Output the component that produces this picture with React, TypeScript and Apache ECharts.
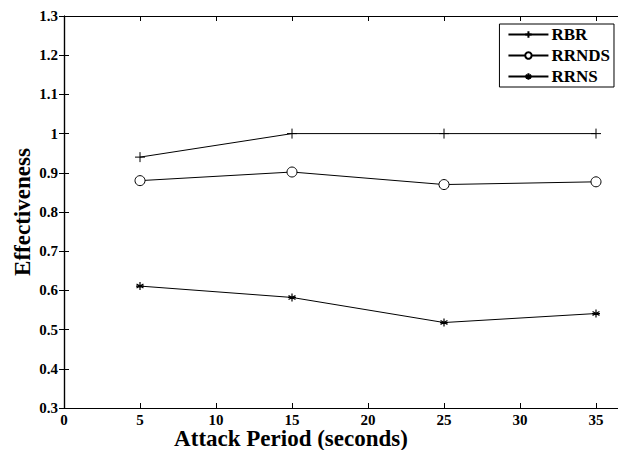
import React, { useEffect, useRef } from "react";
import * as echarts from "echarts";

const periods = [5, 15, 25, 35];
const rbr = [0.94, 1.0, 1.0, 1.0];
const rrnds = [0.88, 0.902, 0.87, 0.877];
const rrns = [0.611, 0.582, 0.518, 0.541];
const seriesNames = ["RBR", "RRNDS", "RRNS"];

const FONT = "'Liberation Serif', 'Times New Roman', serif";
const plusSym = "path://M0,-10L0,10M-10,0L10,0";
const starSym = "path://M0,-10L0,10M-8.66,-5L8.66,5M-8.66,5L8.66,-5M-10,0L10,0";

export default function App() {
  const ref = useRef<HTMLDivElement>(null);
  useEffect(() => {
    const chart = echarts.init(ref.current!, null, { renderer: "svg" });
    const mk = (vals: number[]) => periods.map((p, i) => [p, vals[i]]);
    const axisLine = { show: true, lineStyle: { color: "#000", width: 1.2 } };
    const tick = { show: true, inside: true, length: 5, lineStyle: { color: "#000" } };
    const lbl = { fontFamily: FONT, fontWeight: "bold", fontSize: 15, color: "#000" };
    const lineStyle = { color: "#000", width: 1 };
    chart.setOption({
      animation: false,
      backgroundColor: "#fff",
      grid: { left: 64, top: 16, right: 8, bottom: 42, containLabel: false, outerBoundsMode: "none" },
      legend: {
        right: 66,
        top: 24,
        orient: "vertical",
        backgroundColor: "#fff",
        borderColor: "#000",
        borderWidth: 1,
        borderRadius: 0,
        padding: [2, 4, 2, 8],
        itemGap: 4,
        itemWidth: 40,
        itemHeight: 8,
        textStyle: { fontFamily: FONT, fontWeight: "bold", fontSize: 17, color: "#000", padding: [0, 0, 0, -2] },
        data: seriesNames,
      },
      xAxis: [
        {
          type: "value",
          min: 0,
          max: 40,
          interval: 5,
          position: "bottom",
          axisLine,
          axisTick: tick,
          splitLine: { show: false },
          axisLabel: { ...lbl, margin: 4, formatter: (v: number) => (v >= 40 ? "" : String(v)) },
          name: "Attack Period (seconds)",
          nameLocation: "middle",
          nameGap: 20,
          nameMoveOverlap: false,
          nameTextStyle: {
            fontFamily: FONT,
            fontWeight: "bold",
            fontSize: 23,
            lineHeight: 21,
            color: "#000",
            padding: [0, 154, 0, 0],
          },
        },
        {
          type: "value",
          min: 0,
          max: 40,
          interval: 5,
          position: "top",
          axisLine,
          axisTick: tick,
          splitLine: { show: false },
          axisLabel: { show: false },
        },
      ],
      yAxis: [
        {
          type: "value",
          min: 0.3,
          max: 1.3,
          interval: 0.1,
          position: "left",
          axisLine,
          axisTick: tick,
          splitLine: { show: false },
          axisLabel: { ...lbl, margin: 6 },
          name: "Effectiveness",
          nameLocation: "middle",
          nameGap: 30,
          nameMoveOverlap: false,
          nameTextStyle: { fontFamily: FONT, fontWeight: "bold", fontSize: 23, color: "#000" },
        },
        {
          type: "value",
          min: 0.3,
          max: 1.3,
          interval: 0.1,
          position: "right",
          axisLine,
          axisTick: tick,
          splitLine: { show: false },
          axisLabel: { show: false },
        },
      ],
      series: [
        {
          name: "RBR",
          type: "line",
          data: mk(rbr),
          symbol: plusSym,
          symbolSize: 10,
          lineStyle,
          itemStyle: { color: "none", borderColor: "#000", borderWidth: 1 },
        },
        {
          name: "RRNDS",
          type: "line",
          data: mk(rrnds),
          symbol: "circle",
          symbolSize: 10,
          lineStyle,
          itemStyle: { color: "#fff", borderColor: "#000", borderWidth: 1 },
        },
        {
          name: "RRNS",
          type: "line",
          data: mk(rrns),
          symbol: starSym,
          symbolSize: 8,
          lineStyle,
          itemStyle: { color: "none", borderColor: "#000", borderWidth: 1.2 },
        },
      ],
    });
    return () => chart.dispose();
  }, []);
  return (
    <div style={{ width: 618, height: 450, position: "absolute", left: 0, top: 0, overflow: "hidden", background: "#fff" }}>
      <div ref={ref} style={{ width: 680, height: 450 }} />
    </div>
  );
}
